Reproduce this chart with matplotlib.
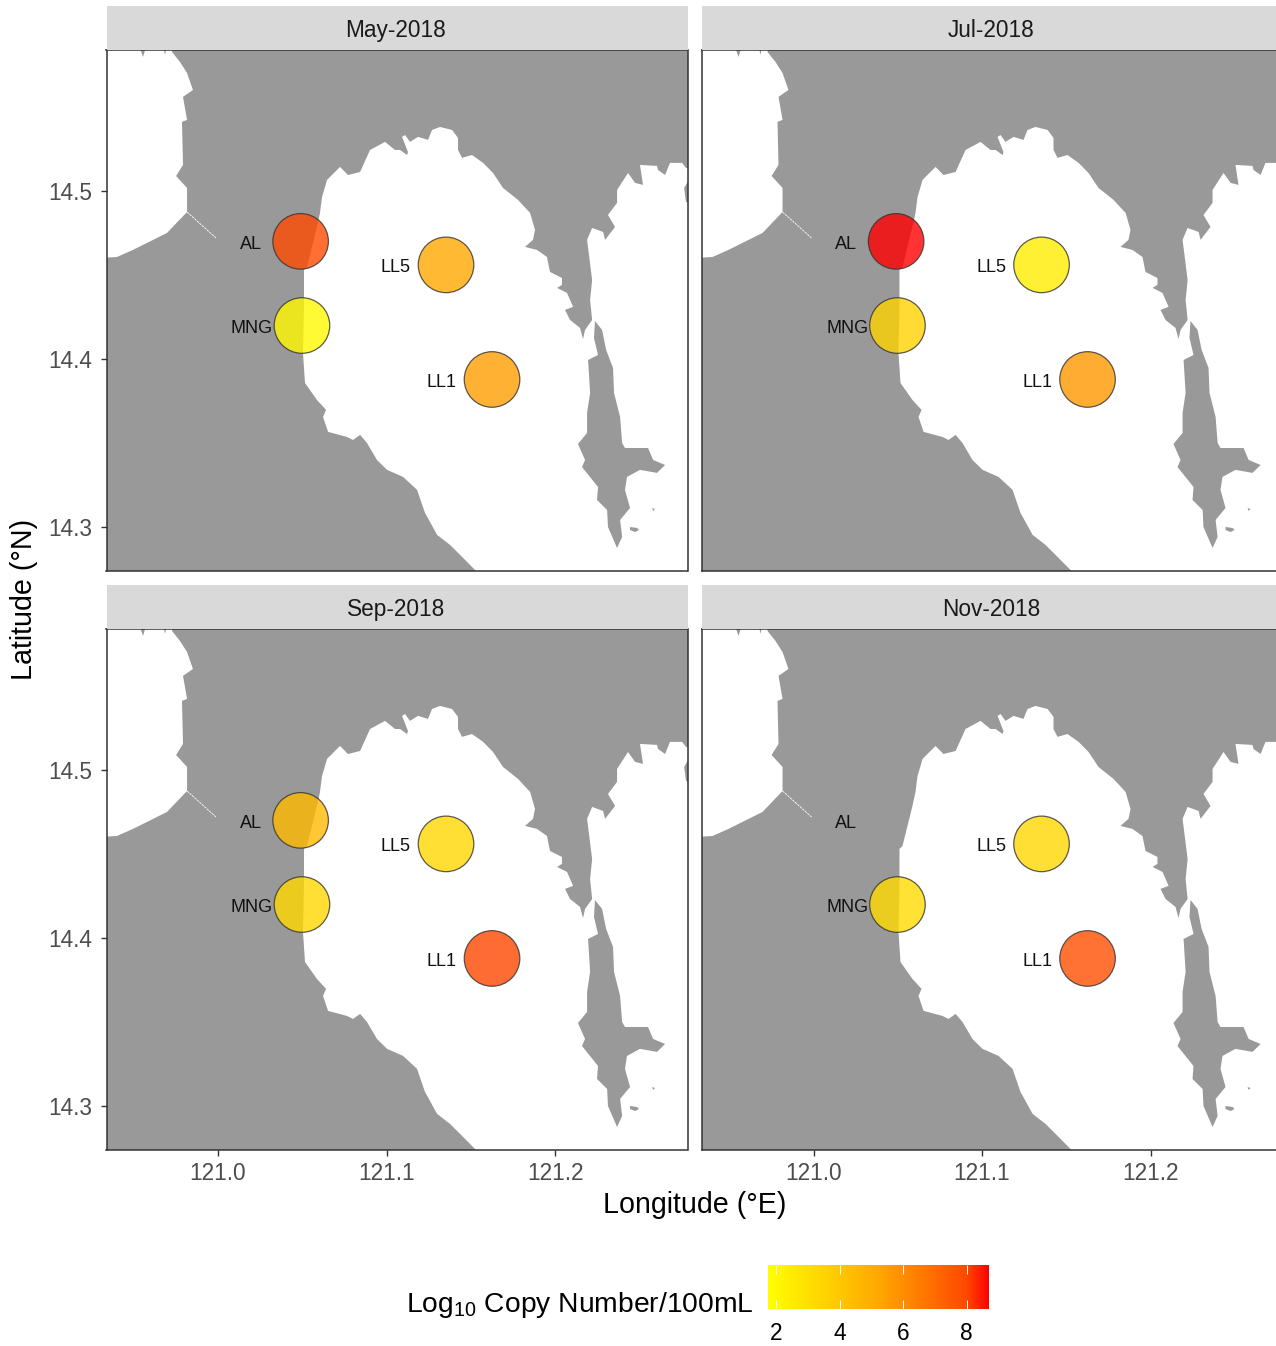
import matplotlib
matplotlib.use("Agg")
import matplotlib.pyplot as plt
import numpy as np
from matplotlib.cm import ScalarMappable
from matplotlib.colors import LinearSegmentedColormap, Normalize

plt.rcParams["font.family"] = ["Liberation Sans", "DejaVu Sans"]
plt.rcParams["mathtext.fontset"] = "custom"
plt.rcParams["mathtext.rm"] = "Liberation Sans"
plt.rcParams["mathtext.default"] = "regular"

W, H = 1276, 1346

months = ["May-2018", "Jul-2018", "Sep-2018", "Nov-2018"]
stations = ["AL", "MNG", "LL5", "LL1"]
station_lon = [121.049, 121.0498, 121.1353, 121.1626]
station_lat = [14.4703, 14.4202, 14.4563, 14.3881]
log_copies = {
    "May-2018": [7.9, 2.0, 5.2, 5.5],
    "Jul-2018": [8.7, 3.5, 2.5, 5.7],
    "Sep-2018": [4.5, 3.3, 3.3, 8.0],
    "Nov-2018": [np.nan, 3.2, 3.3, 7.8],
}
lon_ticks = [121.0, 121.1, 121.2]
lat_ticks = [14.3, 14.4, 14.5]
bar_ticks = [2, 4, 6, 8]

# west and north shore, running round Manila Bay and the lake
main_lon = [120.93, 120.93, 120.9400, 120.9495, 120.9697, 120.9816, 120.9816, 120.9751, 120.9792,
            120.9786, 120.9816, 120.9792, 120.9851, 120.9816, 120.9774, 120.9727, 120.9727, 121.29,
            121.29, 121.2777, 121.2754, 121.2682, 121.2653, 121.2611, 121.2605, 121.2504, 121.2522,
            121.2475, 121.2433, 121.2368, 121.2368, 121.2314, 121.2356, 121.2297, 121.2285, 121.2220,
            121.2190, 121.2220, 121.2208, 121.2220, 121.2178, 121.2166, 121.2148, 121.2089, 121.2059,
            121.2107, 121.2071, 121.2012, 121.2041, 121.2041, 121.1970, 121.1952, 121.1893, 121.1822,
            121.1869, 121.1881, 121.1852, 121.1780, 121.1691, 121.1632, 121.1573, 121.1507, 121.1448,
            121.1424, 121.1424, 121.1389, 121.1317, 121.1270, 121.1246, 121.1187, 121.1139, 121.1110,
            121.1092, 121.1127, 121.1122, 121.1080, 121.1050, 121.0991, 121.0902, 121.0843, 121.0771,
            121.0724, 121.0647, 121.0617, 121.0605, 121.0587, 121.0528, 121.0510, 121.0510, 121.0504,
            121.0516, 121.0587, 121.0641, 121.0623, 121.0653, 121.0765, 121.0801, 121.0843, 121.0884,
            121.0943, 121.1003, 121.1098, 121.1181, 121.1228, 121.1300, 121.1377, 121.1448, 121.1531,
            121.1595]
main_lat = [14.27, 14.4604, 14.4610, 14.4652, 14.4753, 14.4878, 14.5021, 14.5092, 14.5158,
            14.5414, 14.5426, 14.5563, 14.5604, 14.5705, 14.5771, 14.5830, 14.59, 14.59,
            14.5116, 14.5140, 14.5170, 14.5170, 14.5098, 14.5128, 14.5152, 14.5158, 14.5039,
            14.5051, 14.5110, 14.5009, 14.4932, 14.4860, 14.4789, 14.4712, 14.4759, 14.4783,
            14.4712, 14.4473, 14.4354, 14.4235, 14.4176, 14.4122, 14.4188, 14.4235, 14.4295,
            14.4313, 14.4396, 14.4426, 14.4444, 14.4485, 14.4521, 14.4610, 14.4652, 14.4670,
            14.4712, 14.4771, 14.4872, 14.4950, 14.5021, 14.5110, 14.5170, 14.5217, 14.5200,
            14.5247, 14.5319, 14.5366, 14.5384, 14.5366, 14.5307, 14.5325, 14.5295, 14.5336,
            14.5325, 14.5235, 14.5217, 14.5247, 14.5247, 14.5295, 14.5247, 14.5116, 14.5098,
            14.5146, 14.5069, 14.4967, 14.4872, 14.4789, 14.4551, 14.4533, 14.4313, 14.4039,
            14.3860, 14.3759, 14.3700, 14.3658, 14.3569, 14.3539, 14.3521, 14.3551, 14.3503,
            14.3402, 14.3343, 14.3301, 14.3224, 14.3087, 14.2956, 14.2896, 14.2825, 14.2741,
            14.27]

talim_lon = [121.2237, 121.2279, 121.2303, 121.2344, 121.2350, 121.2386, 121.2398, 121.2415,
             121.2552, 121.2582, 121.2653, 121.2605, 121.2504, 121.2427, 121.2415, 121.2445,
             121.2386, 121.2398, 121.2368, 121.2314, 121.2309, 121.2249, 121.2255, 121.2160,
             121.2178, 121.2136, 121.2190, 121.2190, 121.2208, 121.2196, 121.2255, 121.2231]
talim_lat = [14.4229, 14.4176, 14.4057, 14.3950, 14.3801, 14.3658, 14.3503, 14.3473,
             14.3473, 14.3402, 14.3372, 14.3325, 14.3343, 14.3301, 14.3224, 14.3116,
             14.3045, 14.2944, 14.2878, 14.3003, 14.3104, 14.3164, 14.3241, 14.3360,
             14.3402, 14.3497, 14.3563, 14.3682, 14.3801, 14.3997, 14.4027, 14.4128]

islet_lon = [121.2445, 121.2487, 121.2498, 121.2475, 121.2445]
islet_lat = [14.3003, 14.2997, 14.2985, 14.2973, 14.2985]
rock_lon = [121.2576, 121.2593, 121.2582]
rock_lat = [14.3116, 14.3110, 14.3098]
wedge1_lon = [120.9519, 120.9555, 120.9584]
wedge1_lat = [14.59, 14.5801, 14.59]
wedge2_lon = [120.9667, 120.9685, 120.9703]
wedge2_lat = [14.59, 14.5813, 14.59]
sliver_lon = [121.2801, 121.2766, 121.2777, 121.2801]
sliver_lat = [14.5081, 14.5021, 14.4938, 14.4926]
channel_lon = [120.9816, 120.9988]
channel_lat = [14.4878, 14.4723]

land = [(main_lon, main_lat), (talim_lon, talim_lat), (islet_lon, islet_lat), (rock_lon, rock_lat),
        (wedge1_lon, wedge1_lat), (wedge2_lon, wedge2_lat), (sliver_lon, sliver_lat)]

cmap = LinearSegmentedColormap.from_list(
    "copies", [(0, "#FFFF00"), (0.5, "#FFA800"), (0.9, "#FF4800"), (1, "#FF0000")])
norm = Normalize(1.75, 8.7)


def px_axes(fig, left, top, right, bottom, **kw):
    return fig.add_axes([left / W, 1 - bottom / H, (right - left) / W, (bottom - top) / H], **kw)


fig = plt.figure(figsize=(W / 100, H / 100), dpi=100)

panel_lefts = [106.5, 702]
panel_tops = [50, 629]
panel_w = 581
panel_h = 521

for i, month in enumerate(months):
    col = i % 2
    row = i // 2
    left = panel_lefts[col]
    top = panel_tops[row]
    ax = px_axes(fig, left, top, left + panel_w, top + panel_h)

    for xs, ys in land:
        ax.fill(xs, ys, color="#999999", lw=0, zorder=1)
    ax.plot(channel_lon, channel_lat, color="white", lw=0.6, ls=(0, (3, 1)), zorder=2)

    ax.scatter(station_lon, station_lat, c=log_copies[month], cmap=cmap, norm=norm, s=1600,
               alpha=0.8, edgecolors="#333333", linewidths=0.9, zorder=3)
    for name, x, y in zip(stations, station_lon, station_lat):
        ax.text(x - 0.0297, y - 0.0016, name, ha="center", va="center", fontsize=13,
                color="#111111", zorder=4)

    ax.set_xlim(120.9338, 121.2786)
    ax.set_ylim(14.2741, 14.5842)
    ax.set_xticks(lon_ticks)
    ax.set_yticks(lat_ticks)
    ax.set_xticklabels([f"{v:.1f}" for v in lon_ticks])
    ax.set_yticklabels([f"{v:.1f}" for v in lat_ticks])
    ax.tick_params(axis="x", pad=5)
    ax.tick_params(axis="y", pad=6.5)
    ax.tick_params(axis="both", labelsize=16.3, labelcolor="#4D4D4D", color="#333333",
                   length=4, width=1,
                   bottom=row == 1, labelbottom=row == 1, left=col == 0, labelleft=col == 0)
    for spine in ax.spines.values():
        spine.set_color("#333333")
        spine.set_linewidth(1.1)

    # facet strip
    strip = px_axes(fig, left, top - 44, left + panel_w, top, facecolor="#D9D9D9")
    strip.set_xticks([])
    strip.set_yticks([])
    for spine in strip.spines.values():
        spine.set_visible(False)
    strip.text(0.498, 0.45, month, transform=strip.transAxes, ha="center", va="center",
               fontsize=16.3, color="#1A1A1A")

fig.text(695 / W, 1 - 1205 / H, "Longitude (°E)", ha="center", va="center", fontsize=20.6)
fig.text(24 / W, 1 - 599 / H, "Latitude (°N)", ha="center", va="center", rotation=90, fontsize=20.6)

# colour bar legend
cax = px_axes(fig, 768, 1265, 989, 1309)
cb = fig.colorbar(ScalarMappable(norm=norm, cmap=cmap), cax=cax, orientation="horizontal", ticks=bar_ticks)
cb.outline.set_visible(False)
cax.tick_params(axis="x", direction="in", color="white", length=6.4, width=0.7, bottom=True, top=True,
                labelsize=16.3, labelcolor="black", pad=9)
fig.text(753.5 / W, 1 - 1305 / H, "Log$_{10}$ Copy Number/100mL", ha="right", va="center", fontsize=20.3)

fig.savefig("out.png", dpi=100)
